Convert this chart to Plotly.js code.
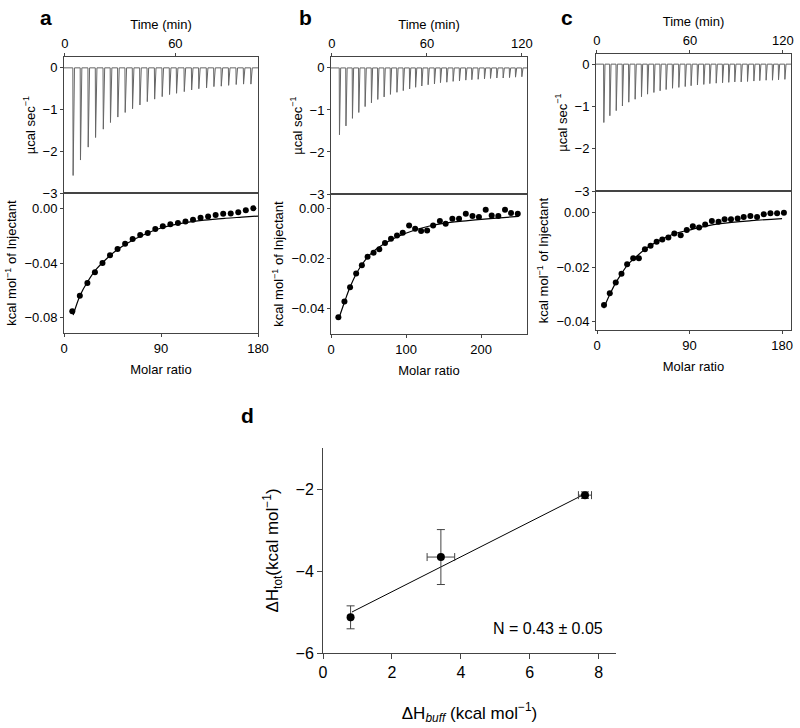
<!DOCTYPE html>
<html><head><meta charset="utf-8">
<script src="https://cdn.plot.ly/plotly-3.0.1.min.js"></script>
<style>html,body{margin:0;padding:0;background:#fff;}#chart{width:800px;height:728px;}</style>
</head><body><div id="chart"></div>
<script>
// ---- Panel a raw thermogram ----
const timeA = [4.3, 8.3, 12.5, 16.5, 20.7, 24.6, 28.6, 32.6, 36.6, 40.6, 44.6, 48.6, 52.7, 56.7, 60.5, 64.7, 68.7, 72.6, 76.8, 80.8, 84.8, 88.8, 92.9, 96.9, 100.9];
const peakA = [-2.58, -2.21, -1.90, -1.67, -1.47, -1.31, -1.18, -1.07, -0.98, -0.89, -0.81, -0.75, -0.69, -0.64, -0.61, -0.57, -0.53, -0.50, -0.48, -0.45, -0.44, -0.42, -0.40, -0.39, -0.39];
// ---- Panel a binding isotherm ----
const ratioA = [7.7, 14.7, 21.7, 28.7, 35.7, 42.7, 49.7, 56.7, 63.7, 70.7, 77.7, 84.7, 91.7, 98.7, 105.7, 112.7, 119.7, 126.7, 133.7, 140.7, 147.7, 154.7, 161.7, 168.7, 175.7];
const heatA = [-0.0752, -0.0638, -0.0545, -0.0468, -0.0400, -0.0344, -0.0298, -0.0259, -0.0225, -0.0196, -0.0182, -0.0153, -0.0133, -0.0118, -0.0109, -0.0097, -0.0085, -0.0070, -0.0062, -0.0050, -0.0042, -0.0040, -0.0030, -0.0016, -0.0002];
const fitRatioA = [8.5, 15, 22, 30, 40, 50, 60, 75, 90, 110, 130, 150, 165, 180];
const fitHeatA = [-0.078, -0.0635, -0.0535, -0.0445, -0.0365, -0.0300, -0.0250, -0.0190, -0.0145, -0.0110, -0.0088, -0.0074, -0.0066, -0.0058];

// ---- Panel b ----
const timeB = [4.6, 8.7, 12.8, 16.8, 20.8, 24.8, 28.8, 32.8, 36.8, 40.9, 44.9, 48.9, 52.7, 56.6, 60.6, 64.6, 68.4, 72.4, 76.4, 80.4, 84.4, 88.2, 92.2, 96.2, 100.0, 104.0, 108.0, 112.0, 115.8, 119.8];
const peakB = [-1.59, -1.38, -1.20, -1.06, -0.92, -0.83, -0.75, -0.69, -0.63, -0.58, -0.54, -0.50, -0.46, -0.43, -0.40, -0.38, -0.35, -0.34, -0.32, -0.31, -0.29, -0.28, -0.27, -0.26, -0.25, -0.24, -0.24, -0.23, -0.22, -0.21];
const ratioB = [9.8, 17.9, 25.4, 33.5, 41.1, 48.7, 56.7, 64.3, 71.9, 79.9, 87.9, 95.5, 104, 112, 120, 128, 136, 145, 152.7, 161.6, 170.5, 179.5, 188.4, 197, 206, 214, 222.8, 231.7, 239.7, 248.7];
const heatB = [-0.0437, -0.0373, -0.0316, -0.0260, -0.0227, -0.0193, -0.0177, -0.0163, -0.0137, -0.0120, -0.0107, -0.0096, -0.0067, -0.0080, -0.0089, -0.0087, -0.0067, -0.0049, -0.0060, -0.0040, -0.0040, -0.0020, -0.0029, -0.0033, -0.0003, -0.0027, -0.0029, -0.0003, -0.0017, -0.0020];
const fitRatioB = [9.8, 18, 25, 33, 41, 50, 60, 75, 90, 110, 130, 150, 175, 200, 225, 250];
const fitHeatB = [-0.0447, -0.0375, -0.0318, -0.0265, -0.0225, -0.0190, -0.0162, -0.0133, -0.0110, -0.0087, -0.0070, -0.0058, -0.0049, -0.0042, -0.0036, -0.0030];

// ---- Panel c ----
const timeC = [4.3, 8.2, 12.3, 16.3, 20.4, 24.5, 28.6, 32.5, 36.6, 40.6, 44.5, 48.6, 52.7, 56.8, 60.6, 64.7, 68.8, 72.7, 76.8, 80.9, 84.9, 88.8, 92.9, 97.0, 101.1, 104.9, 109.0, 113.1, 117.0, 121.1];
const peakC = [-1.38, -1.22, -1.10, -0.99, -0.90, -0.83, -0.77, -0.71, -0.67, -0.63, -0.60, -0.57, -0.55, -0.53, -0.51, -0.49, -0.48, -0.46, -0.45, -0.44, -0.43, -0.42, -0.42, -0.41, -0.40, -0.39, -0.38, -0.38, -0.37, -0.36];
const ratioC = [6.8, 12.4, 18.2, 23.8, 29.3, 35.2, 40.7, 46.6, 52.1, 58.0, 63.5, 69.4, 75.2, 81.4, 87.3, 93.2, 99.3, 105.2, 111.7, 118.2, 124.1, 130.3, 136.8, 142.7, 149.2, 155.7, 162.2, 168.7, 175.2, 181.8];
const heatC = [-0.0338, -0.0295, -0.0256, -0.0224, -0.0189, -0.0167, -0.0167, -0.0134, -0.0121, -0.0106, -0.0098, -0.0091, -0.0076, -0.0082, -0.0063, -0.0049, -0.0054, -0.0043, -0.0030, -0.0033, -0.0024, -0.0024, -0.0021, -0.0015, -0.0012, -0.0015, -0.0005, -0.0002, -0.0002, 0.0000];
const fitRatioC = [6.5, 12.4, 18, 24, 30, 40, 50, 60, 75, 90, 105, 120, 150, 180];
const fitHeatC = [-0.0350, -0.0300, -0.0258, -0.0222, -0.0190, -0.0155, -0.0125, -0.0103, -0.0077, -0.0063, -0.0050, -0.0040, -0.0029, -0.0021];

// ---- Panel d ----
const dHbuff = [0.8, 3.42, 7.6];
const dHtot = [-5.13, -3.66, -2.15];
const errTot = [0.28, 0.67, 0.08];
const errBuff = [0, 0.4, 0.19];
const fitBuff = [0.84, 7.6];
const fitTot = [-5.0, -2.12];
const fitLabel = 'N = 0.43 ± 0.05';

const FONT = 'Arial, "Liberation Sans", sans-serif';
const AX = '#444';

function thermo(times, peaks, x0, x1) {
  const xs = [x0], ys = [0];
  for (let i = 0; i < times.length; i++) {
    xs.push(times[i], times[i] + 0.15, times[i] + 0.9);
    ys.push(0, peaks[i], 0);
  }
  xs.push(x1); ys.push(0);
  return {xs, ys};
}

const rA = [-0.5, 104.9], rB = [-0.6, 123.2], rC = [-0.6, 125.2];
const thA = thermo(timeA, peakA, rA[0], rA[1]);
const thB = thermo(timeB, peakB, rB[0], rB[1]);
const thC = thermo(timeC, peakC, rC[0], rC[1]);

const rawLine = {color: '#666', width: 1};
const dot = {color: '#000', size: 6};
const fitLine = {color: '#000', width: 1.2};

const traces = [
  {x: thA.xs, y: thA.ys, xaxis: 'x', yaxis: 'y', mode: 'lines', line: rawLine, hoverinfo: 'skip'},
  {x: ratioA, y: heatA, xaxis: 'x2', yaxis: 'y2', mode: 'markers', marker: dot},
  {x: fitRatioA, y: fitHeatA, xaxis: 'x2', yaxis: 'y2', mode: 'lines', line: Object.assign({shape: 'spline'}, fitLine)},
  {x: thB.xs, y: thB.ys, xaxis: 'x3', yaxis: 'y3', mode: 'lines', line: rawLine, hoverinfo: 'skip'},
  {x: ratioB, y: heatB, xaxis: 'x4', yaxis: 'y4', mode: 'markers', marker: dot},
  {x: fitRatioB, y: fitHeatB, xaxis: 'x4', yaxis: 'y4', mode: 'lines', line: Object.assign({shape: 'spline'}, fitLine)},
  {x: thC.xs, y: thC.ys, xaxis: 'x5', yaxis: 'y5', mode: 'lines', line: rawLine, hoverinfo: 'skip'},
  {x: ratioC, y: heatC, xaxis: 'x6', yaxis: 'y6', mode: 'markers', marker: dot},
  {x: fitRatioC, y: fitHeatC, xaxis: 'x6', yaxis: 'y6', mode: 'lines', line: Object.assign({shape: 'spline'}, fitLine)},
  {x: fitBuff, y: fitTot, xaxis: 'x7', yaxis: 'y7', mode: 'lines', line: {color: '#000', width: 1}},
  {x: dHbuff, y: dHtot, xaxis: 'x7', yaxis: 'y7', mode: 'markers', marker: {color: '#000', size: 8},
   error_y: {type: 'data', array: errTot, visible: true, color: '#444', thickness: 1, width: 4},
   error_x: {type: 'data', array: errBuff, visible: true, color: '#444', thickness: 1, width: 4}}
];

function px2x(p) { return p / 800; }
function py2y(p) { return 1 - p / 728; }

const tickFont = {family: FONT, size: 13, color: '#000'};
const titleFont = {family: FONT, size: 13, color: '#000'};

function topX(dom, range, anchor, tv) {
  return {domain: dom, range: range, anchor: anchor, side: 'top', showline: true, mirror: true, linecolor: AX, linewidth: 1,
    ticks: 'outside', ticklen: 3, tickcolor: AX, tickvals: tv, tickfont: tickFont, showgrid: false, zeroline: false,
    title: {text: 'Time (min)', font: titleFont, standoff: 3}};
}
function topY(dom, range, anchor) {
  return {domain: dom, range: range, anchor: anchor, showline: true, mirror: true, linecolor: AX, linewidth: 1,
    ticks: 'outside', ticklen: 3, tickcolor: AX, tickvals: [0, -1, -2, -3], tickfont: tickFont, showgrid: false, zeroline: false,
    title: {text: 'µcal sec<sup>−1</sup>', font: titleFont, standoff: 4}};
}
function botX(dom, range, anchor, tv) {
  return {domain: dom, range: range, anchor: anchor, showline: true, mirror: true, linecolor: AX, linewidth: 1,
    ticks: 'outside', ticklen: 3, tickcolor: AX, tickvals: tv, tickfont: tickFont, showgrid: false, zeroline: false,
    title: {text: 'Molar ratio', font: titleFont, standoff: 10}};
}
function botY(dom, range, anchor, tv) {
  return {domain: dom, range: range, anchor: anchor, showline: true, mirror: true, linecolor: AX, linewidth: 1,
    ticks: 'outside', ticklen: 3, tickcolor: AX, tickvals: tv, tickformat: '.2f', tickfont: tickFont, showgrid: false, zeroline: false,
    title: {text: 'kcal mol<sup>−1</sup> of Injectant', font: titleFont, standoff: 4}};
}

const xa = [px2x(64), px2x(258)], xb = [px2x(331), px2x(527)], xc = [px2x(596), px2x(791)];

function letter(t, px, py) {
  return {text: '<b>' + t + '</b>', x: px2x(px), y: py2y(py), xref: 'paper', yref: 'paper', xanchor: 'center', yanchor: 'middle',
    showarrow: false, font: {family: FONT, size: 21, color: '#000'}};
}

const layout = {
  width: 800, height: 728,
  margin: {l: 0, r: 0, t: 0, b: 0},
  paper_bgcolor: '#fff', plot_bgcolor: '#fff',
  showlegend: false,
  font: {family: FONT, color: '#000'},
  xaxis: topX(xa, rA, 'y', [0, 60]),
  yaxis: topY([py2y(193), py2y(57)], [-3, 0.26], 'x'),
  xaxis2: botX(xa, [0, 180], 'y2', [0, 90, 180]),
  yaxis2: botY([py2y(333), py2y(193)], [-0.091, 0.011], 'x2', [0, -0.04, -0.08]),
  xaxis3: topX(xb, rB, 'y3', [0, 60, 120]),
  yaxis3: topY([py2y(194), py2y(57)], [-3, 0.26], 'x3'),
  xaxis4: botX(xb, [0, 261], 'y4', [0, 100, 200]),
  yaxis4: botY([py2y(334), py2y(194)], [-0.0504, 0.006], 'x4', [0, -0.02, -0.04]),
  xaxis5: topX(xc, rC, 'y5', [0, 60, 120]),
  yaxis5: topY([py2y(191), py2y(54)], [-3, 0.24], 'x5'),
  xaxis6: botX(xc, [-1, 188.7], 'y6', [0, 90, 180]),
  yaxis6: botY([py2y(330), py2y(191)], [-0.043, 0.008], 'x6', [0, -0.02, -0.04]),
  xaxis7: {domain: [px2x(323), px2x(616)], range: [0, 8.5], anchor: 'y7', showline: true, linecolor: AX, linewidth: 1,
    ticks: 'outside', ticklen: 5, tickcolor: AX, tickvals: [0, 2, 4, 6, 8], tickfont: {family: FONT, size: 16, color: '#000'},
    showgrid: false, zeroline: false,
    title: {text: 'ΔH<sub><i>buff</i></sub> (kcal mol<sup>−1</sup>)', font: {family: FONT, size: 17, color: '#000'}, standoff: 26}},
  yaxis7: {domain: [py2y(653), py2y(448)], range: [-6, -1], anchor: 'x7', showline: true, linecolor: AX, linewidth: 1,
    ticks: 'outside', ticklen: 5, tickcolor: AX, tickvals: [-2, -4, -6], tickfont: {family: FONT, size: 16, color: '#000'},
    showgrid: false, zeroline: false,
    title: {text: 'ΔH<sub>tot</sub>(kcal mol<sup>−1</sup>)', font: {family: FONT, size: 17, color: '#000'}, standoff: 12}},
  annotations: [
    letter('a', 46, 17), letter('b', 305, 17), letter('c', 567, 17), letter('d', 247, 415),
    {text: fitLabel, x: px2x(548), y: py2y(628), xref: 'paper', yref: 'paper', xanchor: 'center', yanchor: 'middle',
     showarrow: false, font: {family: FONT, size: 16, color: '#000'}}
  ]
};

Plotly.newPlot('chart', traces, layout, {staticPlot: true, displayModeBar: false});
</script>
</body></html>
